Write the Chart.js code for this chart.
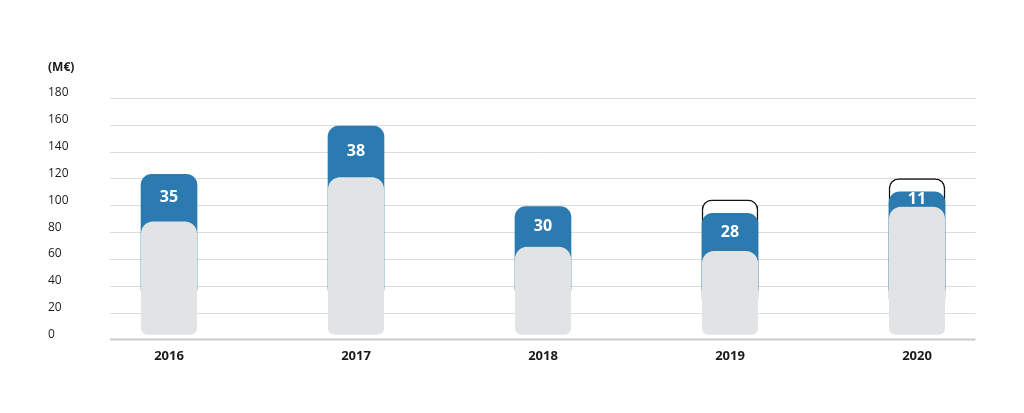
<!DOCTYPE html>
<html>
<head>
<meta charset="utf-8">
<script src="https://cdn.jsdelivr.net/npm/chart.js@4/dist/chart.umd.min.js"></script>
<style>
  html, body { margin: 0; padding: 0; background: #fff; }
  #wrap { width: 1024px; height: 413px; }
</style>
</head>
<body>
<div id="wrap"><canvas id="chart"></canvas></div>
<script>
// values in M€
const years = ['2016', '2017', '2018', '2019', '2020'];
const baseValues = [88, 121, 69, 66, 99];     // grey part
const addedValues = [35, 38, 30, 28, 11];     // blue part (labelled)
const targetValues = [null, null, null, 104, 120]; // outlined boxes
const yTicks = [0, 20, 40, 60, 80, 100, 120, 140, 160, 180];

const BLUE = '#2b7bb1';
const GREY = '#e2e3e5';
const GRID = '#dadde0';

const totals = baseValues.map((v, i) => v + addedValues[i]);

// grid lines are shorter than the category span, so draw them here
const gridPlugin = {
  id: 'shortGrid',
  beforeDatasetsDraw(chart) {
    const { ctx, chartArea, scales } = chart;
    const x0 = chartArea.left + 34.5;
    const x1 = chartArea.right - 35;
    ctx.save();
    scales.y.ticks.forEach((t) => {
      const y = Math.round(scales.y.getPixelForValue(t.value)) + 0.5;
      ctx.beginPath();
      if (t.value === 0) {
        ctx.strokeStyle = '#cbcbcb';
        ctx.lineWidth = 2;
      } else {
        ctx.strokeStyle = GRID;
        ctx.lineWidth = 1;
      }
      ctx.moveTo(x0, y);
      ctx.lineTo(x1, y);
      ctx.stroke();
    });
    ctx.restore();
  }
};

// white numbers in the middle of the visible blue part
const labelPlugin = {
  id: 'blueLabels',
  afterDatasetsDraw(chart) {
    const { ctx } = chart;
    const blue = chart.getDatasetMeta(1).data;
    const grey = chart.getDatasetMeta(0).data;
    ctx.save();
    ctx.fillStyle = '#ffffff';
    ctx.font = 'bold 16px "Open Sans", sans-serif';
    ctx.textAlign = 'center';
    ctx.textBaseline = 'middle';
    blue.forEach((bar, i) => {
      const y = (bar.y + grey[i].y) / 2;
      ctx.fillText(String(addedValues[i]), bar.x, y);
    });
    ctx.restore();
  }
};

new Chart(document.getElementById('chart'), {
  type: 'bar',
  data: {
    labels: years,
    datasets: [
      {
        label: 'base',
        data: baseValues,
        backgroundColor: GREY,
        borderColor: 'rgba(0,0,0,0)',
        borderWidth: { top: 0, left: 0, right: 0, bottom: 5 },
        borderSkipped: false,
        borderRadius: 12,
        grouped: false,
        barThickness: 56,
        order: 0
      },
      {
        label: 'added',
        data: totals,
        base: 30, // hidden behind the grey bar
        backgroundColor: BLUE,
        borderRadius: 11,
        borderSkipped: false,
        grouped: false,
        barThickness: 56,
        order: 1
      },
      {
        label: 'target',
        data: targetValues,
        base: 30,
        backgroundColor: '#ffffff',
        borderColor: '#111111',
        borderWidth: 1.5,
        borderRadius: 10,
        grouped: false,
        barThickness: 56,
        order: 2
      }
    ]
  },
  options: {
    responsive: true,
    maintainAspectRatio: false,
    animation: false,
    layout: { padding: { left: 48, right: 13.5, top: 60, bottom: 40 } },
    plugins: {
      legend: { display: false },
      tooltip: { enabled: false },
      title: {
        display: true,
        text: '(M€)',
        align: 'start',
        color: '#1a1a1a',
        font: { family: '"Open Sans", sans-serif', size: 12, weight: 'bold' },
        padding: { top: 0, bottom: 23.6 }
      }
    },
    scales: {
      x: {
        grid: { display: false, drawTicks: false },
        border: { display: false },
        ticks: {
          color: '#1a1a1a',
          padding: 9,
          font: { family: '"Open Sans", sans-serif', size: 13, weight: 'bold' }
        }
      },
      y: {
        min: 0,
        max: 180,
        afterBuildTicks: (s) => { s.ticks = yTicks.map((v) => ({ value: v })); },
        afterFit: (s) => { s.width = 27.5; },
        grid: { display: false, drawTicks: false },
        border: { display: false },
        ticks: {
          color: '#1a1a1a',
          crossAlign: 'far',
          labelOffset: -5,
          padding: 0,
          font: { family: '"Open Sans", sans-serif', size: 12 }
        }
      }
    }
  },
  plugins: [gridPlugin, labelPlugin]
});
</script>
</body>
</html>
